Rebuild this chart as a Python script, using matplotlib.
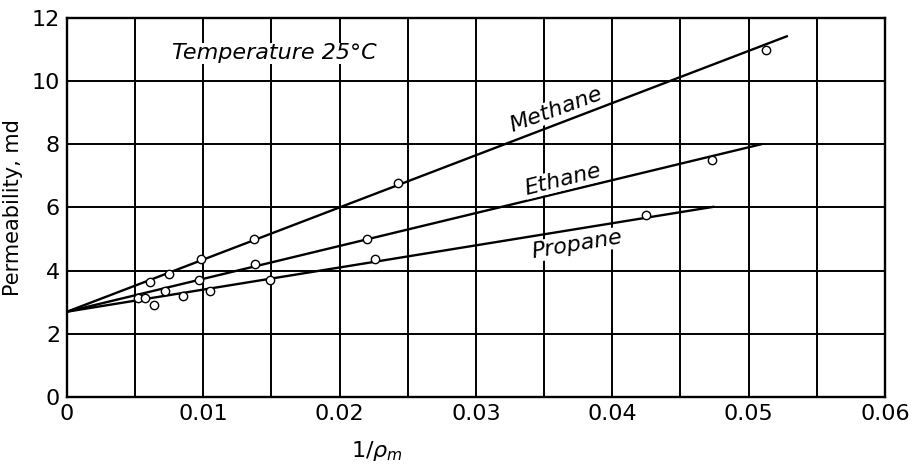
import matplotlib.pyplot as plt

# Puntos medidos (1/rho_m, permeabilidad en md)
metano_x = [0.0061, 0.0075, 0.0098, 0.0137, 0.0243, 0.0513]
metano_y = [3.65, 3.91, 4.36, 4.99, 6.78, 11.0]

etano_x = [0.0072, 0.0097, 0.0138, 0.0220, 0.0473]
etano_y = [3.36, 3.70, 4.21, 4.99, 7.50]

propano_x = [0.0052, 0.0057, 0.0064, 0.0085, 0.0105, 0.0149, 0.0226, 0.0425]
propano_y = [3.12, 3.13, 2.91, 3.20, 3.36, 3.70, 4.36, 5.76]

# Rectas ajustadas (extremos)
metano_recta_x = [0.0, 0.0528]
metano_recta_y = [2.70, 11.42]
etano_recta_x = [0.0, 0.0509]
etano_recta_y = [2.70, 8.00]
propano_recta_x = [0.0, 0.0474]
propano_recta_y = [2.70, 6.02]

ticks_x = [0, 0.01, 0.02, 0.03, 0.04, 0.05, 0.06]
etiquetas_x = ["0", "0.01", "0.02", "0.03", "0.04", "0.05", "0.06"]
ticks_y = [0, 2, 4, 6, 8, 10, 12]

fig = plt.figure(figsize=(9.16, 4.67), dpi=100)
ax = fig.add_axes([0.0731, 0.1499, 0.8930, 0.8116])

# Cuadricula
for gx in [i * 0.005 for i in range(13)]:
    ax.axvline(gx, color="black", lw=1.4, zorder=1)
for gy in ticks_y:
    ax.axhline(gy, color="black", lw=1.4, zorder=1)

for rx, ry in [(metano_recta_x, metano_recta_y),
               (etano_recta_x, etano_recta_y),
               (propano_recta_x, propano_recta_y)]:
    ax.plot(rx, ry, color="black", lw=1.7, zorder=3)

for px, py in [(metano_x, metano_y), (etano_x, etano_y), (propano_x, propano_y)]:
    ax.plot(px, py, "o", ms=6, mfc="white", mec="black", mew=1.0, zorder=4)

ax.set_xlim(0, 0.06)
ax.set_ylim(0, 12)
ax.set_xticks(ticks_x)
ax.set_xticklabels(etiquetas_x)
ax.set_yticks(ticks_y)
ax.tick_params(length=0, labelsize=16, pad=5)
for s in ax.spines.values():
    s.set_linewidth(1.7)

caja = dict(facecolor="white", edgecolor="none", pad=0.5)
ax.text(0.0152, 10.88, "Temperature 25°C", style="italic", fontsize=16,
        ha="center", va="center", bbox=caja)
ax.text(0.0359, 9.1, "Methane", style="italic", fontsize=16, rotation=20,
        ha="center", va="center", bbox=caja)
ax.text(0.0364, 6.88, "Ethane", style="italic", fontsize=16, rotation=14,
        ha="center", va="center", bbox=caja)
ax.text(0.0374, 4.83, "Propane", style="italic", fontsize=16, rotation=9.5,
        ha="center", va="center", bbox=caja)

ax.set_xlabel(r"$1/\rho_m$", fontsize=16)
ax.xaxis.set_label_coords(0.379, -0.11)
ax.set_ylabel("Permeability, md", fontsize=15, labelpad=6)

plt.savefig("out.png", dpi=100)
